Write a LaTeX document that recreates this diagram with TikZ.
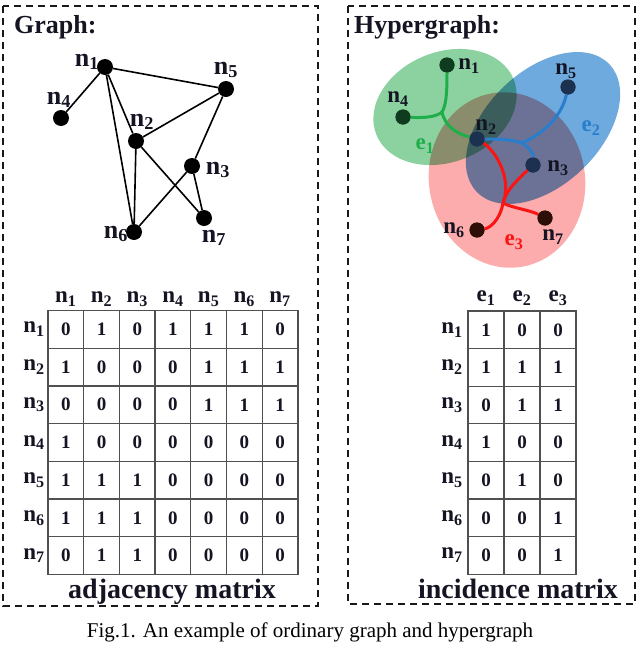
\documentclass[tikz,border=0pt]{standalone}
\usepackage{fontspec}
\setmainfont{Liberation Serif}
\usetikzlibrary{calc}
\definecolor{gridgray}{RGB}{80,80,80}
\definecolor{egreen}{RGB}{140,210,160}
\definecolor{eblue}{RGB}{110,170,222}
\definecolor{ered}{RGB}{252,172,172}
\definecolor{lgreen}{RGB}{30,175,75}
\definecolor{lblue}{RGB}{40,125,205}
\definecolor{lred}{RGB}{250,20,20}
\definecolor{ngreen}{RGB}{15,60,30}
\definecolor{nblue}{RGB}{28,48,80}
\definecolor{nred}{RGB}{45,15,8}
\definecolor{ink}{RGB}{20,20,35}
\newcommand\nsb[2]{#1\textsubscript{#2}}
\begin{document}
\begin{tikzpicture}[x=1pt,y=-1pt,
  gv/.style={circle,fill=black,inner sep=0pt,minimum size=16pt},
  hv/.style={circle,inner sep=0pt,minimum size=15pt},
  glbl/.style={font=\fontsize{26}{26}\selectfont\bfseries,inner sep=0pt,text=ink},
  hlbl/.style={font=\fontsize{23}{23}\selectfont\bfseries,inner sep=0pt,text=ink},
  mlbl/.style={font=\fontsize{23}{23}\selectfont\bfseries,inner sep=0pt,text=ink},
  ge/.style={line width=1.6pt},
  he/.style={line width=3pt},
  dbox/.style={draw=black!90,line width=1.7pt,dash pattern=on 7pt off 5pt},
  cell/.style={draw=gridgray,line width=1.3pt,inner sep=0pt,text=ink,font=\fontsize{19}{19}\selectfont\bfseries},
  title/.style={font=\fontsize{26}{26}\selectfont\bfseries,inner sep=0pt,anchor=base west,text=ink},
  mtitle/.style={font=\fontsize{28}{28}\selectfont\bfseries,inner sep=0pt,anchor=base,text=ink}]
\useasboundingbox (0,0) rectangle (640,651);
% boxes
\draw[dbox] (3,6) rectangle (318,606);
\draw[dbox] (348,6) rectangle (635,604);
\node[title] (tg) at (14,33) {Graph:};
\node[title] (th) at (354,33) {Hypergraph:};
% ---------- ordinary graph ----------
\node[gv] (g1) at (105,67) {};
\node[gv] (g4) at (61,118) {};
\node[gv] (g5) at (226,89) {};
\node[gv] (g2) at (136,141) {};
\node[gv] (g3) at (192,166) {};
\node[gv] (g7) at (204,218) {};
\node[gv] (g6) at (134,232) {};
\draw[ge] (g1) -- (g4) (g1) -- (g5) (g1) -- (g2) (g1) -- (g6)
          (g2) -- (g5) (g2) -- (g6) (g2) -- (g7)
          (g5) -- (g3) (g3) -- (g6) (g3) -- (g7);
\node[glbl] (gl1) at (87,62) {\nsb{n}{1}};
\node[glbl] (gl4) at (59,100) {\nsb{n}{4}};
\node[glbl] (gl5) at (226,70) {\nsb{n}{5}};
\node[glbl] (gl2) at (142,122) {\nsb{n}{2}};
\node[glbl] (gl3) at (218,170) {\nsb{n}{3}};
\node[glbl] (gl7) at (214,238) {\nsb{n}{7}};
\node[glbl] (gl6) at (116,234) {\nsb{n}{6}};
% ---------- hypergraph ----------
\begin{scope}[transparency group]
\begin{scope}[blend mode=multiply]
\fill[egreen,rotate around={22:(445,107)}] (445,107) ellipse [x radius=74,y radius=55];
\fill[ered,rotate around={10:(507,180)}] (507,180) ellipse [x radius=78,y radius=88];
\fill[eblue,rotate around={44:(543,128)}] (543,128) ellipse [x radius=92,y radius=57];
\end{scope}
\end{scope}
\coordinate (j1) at (442,112);
\coordinate (j2) at (522,143);
\coordinate (j3) at (503,203);
\node[hv,fill=ngreen] (h1) at (447,65) {};
\node[hv,fill=ngreen] (h4) at (403,117) {};
\node[hv,fill=nblue] (h5) at (568,87) {};
\node[hv,fill=nblue] (h2) at (477,139) {};
\node[hv,fill=nblue] (h3) at (533,165) {};
\node[hv,fill=nred] (h7) at (545,218) {};
\node[hv,fill=nred] (h6) at (477,230) {};
\draw[he,lgreen] (h1) .. controls (447,95) and (446,105) .. (j1);
\draw[he,lgreen] (j1) .. controls (436,117) and (425,118) .. (h4);
\draw[he,lgreen] (j1) .. controls (445,127) and (458,134) .. (h2);
\draw[he,lblue] (h2) .. controls (495,139) and (510,139) .. (j2);
\draw[he,lblue] (j2) .. controls (545,133) and (562,115) .. (h5);
\draw[he,lblue] (j2) .. controls (530,148) and (534,155) .. (h3);
\draw[he,lred] (h2) .. controls (497,152) and (512,180) .. (j3);
\draw[he,lred] (h3) .. controls (512,185) and (506,192) .. (j3);
\draw[he,lred] (j3) .. controls (500,220) and (490,228) .. (h6);
\draw[he,lred] (j3) .. controls (512,208) and (530,210) .. (h7);
\node[hv,fill=ngreen] at (h1) {};
\node[hv,fill=ngreen] at (h4) {};
\node[hv,fill=nblue] at (h5) {};
\node[hv,fill=nblue] at (h2) {};
\node[hv,fill=nblue] at (h3) {};
\node[hv,fill=nred] at (h7) {};
\node[hv,fill=nred] at (h6) {};
\node[hlbl] (hl1) at (469,66) {\nsb{n}{1}};
\node[hlbl] (hl4) at (398,99) {\nsb{n}{4}};
\node[hlbl] (hl5) at (566,71) {\nsb{n}{5}};
\node[hlbl] (hl2) at (486,127) {\nsb{n}{2}};
\node[hlbl] (hl3) at (558,168) {\nsb{n}{3}};
\node[hlbl] (hl7) at (553,237) {\nsb{n}{7}};
\node[hlbl] (hl6) at (454,230) {\nsb{n}{6}};
\node[hlbl,text=lgreen] (e1) at (425,146) {\nsb{e}{1}};
\node[hlbl,text=lblue] (e2) at (591,128) {\nsb{e}{2}};
\node[hlbl,text=lred] (e3) at (514,242) {\nsb{e}{3}};
% ---------- adjacency matrix ----------
\foreach \r [count=\i] in {{0,1,0,1,1,1,0},{1,0,0,0,1,1,1},{0,0,0,0,1,1,1},{1,0,0,0,0,0,0},{1,1,1,0,0,0,0},{1,1,1,0,0,0,0},{0,1,1,0,0,0,0}}{
  \node[mlbl] (ar\i) at (34,{310.5+(\i-0.5)*37.7}) {\nsb{n}{\i}};
  \node[mlbl] (ac\i) at ({48+(\i-0.5)*35.7},299) {\nsb{n}{\i}};
  \foreach \v [count=\j] in \r {
    \node[cell,minimum width=35.7pt,minimum height=37.7pt] (a-\i-\j) at ({48+(\j-0.5)*35.7},{310.5+(\i-0.5)*37.7}) {\v};
  }
}
\node[mtitle] (at) at (172,598) {adjacency matrix};
% ---------- incidence matrix ----------
\foreach \r [count=\i] in {{1,0,0},{1,1,1},{0,1,1},{1,0,0},{0,1,0},{0,0,1},{0,0,1}}{
  \node[mlbl] (br\i) at (452,{311+(\i-0.5)*37.6}) {\nsb{n}{\i}};
  \foreach \v [count=\j] in \r {
    \node[cell,minimum width=36pt,minimum height=37.6pt] (b-\i-\j) at ({468+(\j-0.5)*36},{311+(\i-0.5)*37.6}) {\v};
  }
}
\foreach \j in {1,2,3}{
  \node[mlbl] (bc\j) at ({468+(\j-0.5)*36},298) {\nsb{e}{\j}};
}
\node[mtitle] (it) at (518,598) {incidence matrix};
% caption
\node[font=\fontsize{21}{21}\selectfont,inner sep=0pt,anchor=base] (cap) at (310,637) {Fig.1. An example of ordinary graph and hypergraph};
\end{tikzpicture}
\end{document}
